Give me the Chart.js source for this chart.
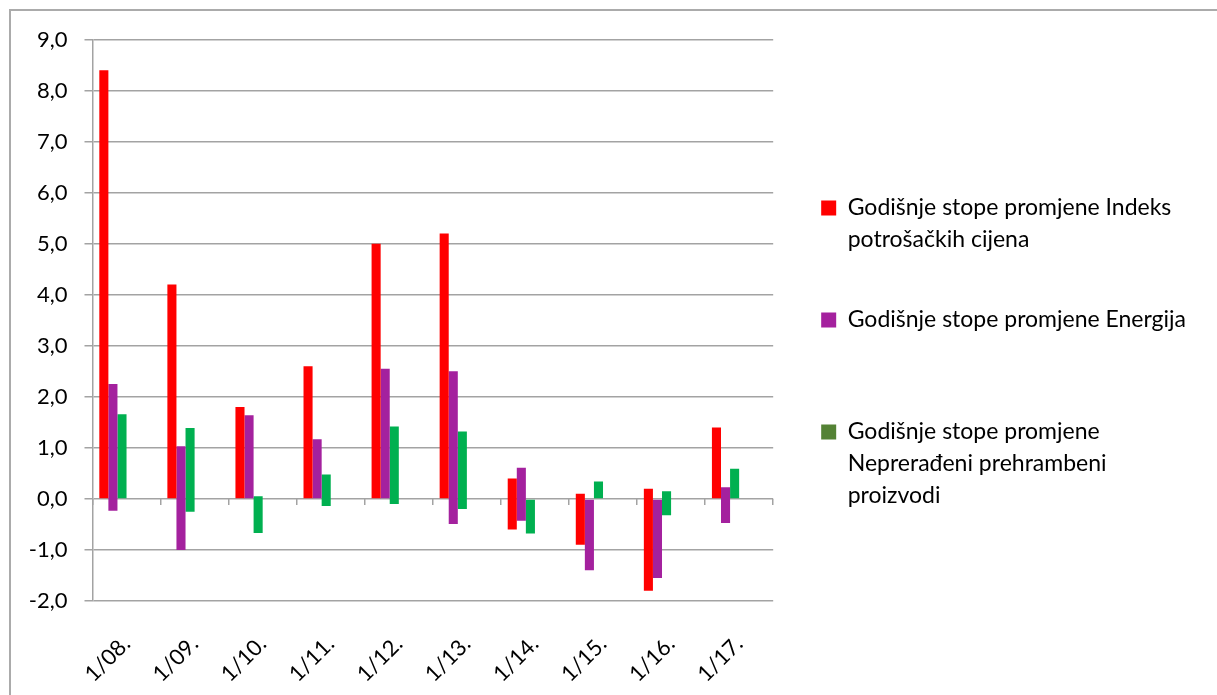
<!DOCTYPE html>
<html>
<head>
<meta charset="utf-8">
<script src="https://cdn.jsdelivr.net/npm/chart.js@4.4.1/dist/chart.umd.min.js"></script>
<style>
body{margin:0;overflow:hidden;background:#fff;}
#frame{position:absolute;left:9px;top:9px;width:1400px;height:900px;border:2px solid #ababab;}
#wrap{position:absolute;left:0;top:0;width:1217px;height:695px;}
</style>
</head>
<body>
<div id="frame"></div>
<div id="wrap"><canvas id="myChart"></canvas></div>
<script>
var categories = ['1/08.', '1/09.', '1/10.', '1/11.', '1/12.', '1/13.', '1/14.', '1/15.', '1/16.', '1/17.'];

// floating bars: low / high end of each bar
var cpiLow  = [0, 0, 0, 0, 0, 0, -0.6, -0.9, -1.8, 0];
var cpiHigh = [8.4, 4.2, 1.8, 2.6, 5.0, 5.2, 0.4, 0.1, 0.2, 1.4];
var energyLow  = [-0.23, -1.0, 0, 0, 0, -0.49, -0.43, -1.4, -1.55, -0.47];
var energyHigh = [2.25, 1.03, 1.64, 1.17, 2.55, 2.5, 0.61, 0, 0, 0.23];
var foodLow  = [0, -0.25, -0.67, -0.14, -0.1, -0.2, -0.68, 0, -0.32, 0];
var foodHigh = [1.66, 1.39, 0.05, 0.48, 1.42, 1.32, 0, 0.34, 0.15, 0.59];

var yTicksMin = -2;
var yTicksMax = 9;

var legendCpi = ['Godišnje stope promjene Indeks', 'potrošačkih cijena'];
var legendEnergy = ['Godišnje stope promjene Energija', ''];
var legendFood = ['Godišnje stope promjene', 'Neprerađeni prehrambeni', 'proizvodi'];

function pairs(low, high){
	var out = [];
	for (var i = 0; i < low.length; i++) {
		out.push([low[i], high[i]]);
	}
	return out;
}

function empty(){
	var out = [];
	for (var i = 0; i < categories.length; i++) out.push(null);
	return out;
}

var gridGrey = '#a3a3a3';

var ctx = document.getElementById('myChart').getContext('2d');
var chart = new Chart(ctx, {
	type: 'bar',
	data: {
		labels: categories,
		datasets: [
			{label: legendCpi.join(' '), data: pairs(cpiLow, cpiHigh), backgroundColor: '#ff0000'},
			{label: legendEnergy[0], data: pairs(energyLow, energyHigh), backgroundColor: '#a4219e'},
			{label: legendFood.join(' '), data: pairs(foodLow, foodHigh), backgroundColor: '#00b050'},
			// empty slots, Excel leaves them on the right of each group
			{label: 'a', data: empty()},
			{label: 'b', data: empty()},
			{label: 'c', data: empty()}
		]
	},
	options: {
		responsive: true,
		maintainAspectRatio: false,
		animation: false,
		categoryPercentage: 0.8,
		barPercentage: 1,
		layout: {padding: {left: 0, right: 21, top: 39.5, bottom: 0}},
		plugins: {
			tooltip: {enabled: false},
			legend: {
				position: 'right',
				align: 'start',
				maxWidth: 445,
				// empty title only pushes the items down
				title: {display: true, text: '', padding: 0, font: {size: 10, lineHeight: '109px'}},
				labels: {
					boxWidth: 15,
					boxHeight: 15,
					padding: 48,
					color: '#000',
					font: {family: 'Lato', size: 23, lineHeight: 32 / 23},
					generateLabels: function(chart){
						return [
							{text: legendCpi, fillStyle: '#ff0000', strokeStyle: '#ff0000', fontColor: '#000', lineWidth: 0, hidden: false, datasetIndex: 0},
							{text: legendEnergy, fillStyle: '#a4219e', strokeStyle: '#a4219e', fontColor: '#000', lineWidth: 0, hidden: false, datasetIndex: 1},
							{text: legendFood, fillStyle: '#548235', strokeStyle: '#548235', fontColor: '#000', lineWidth: 0, hidden: false, datasetIndex: 2}
						];
					}
				}
			}
		},
		scales: {
			x: {
				grid: {display: false},
				border: {display: false},
				ticks: {
					color: '#000',
					font: {family: 'Lato', size: 22},
					minRotation: 45,
					maxRotation: 45,
					autoSkip: false,
					padding: 22
				},
				afterFit: function(scale){ scale.height = 94; }
			},
			x2: {
				type: 'category',
				labels: categories,
				position: {y: 0},
				offset: true,
				grid: {offset: true, drawOnChartArea: false, color: gridGrey, lineWidth: 1.5, tickLength: 6},
				border: {display: false},
				ticks: {display: false}
			},
			y: {
				min: yTicksMin,
				max: yTicksMax,
				grid: {color: gridGrey, lineWidth: 1.5, tickLength: 8},
				border: {display: true, color: gridGrey, width: 1.5},
				ticks: {
					stepSize: 1,
					color: '#000',
					padding: 17,
					font: {family: 'Lato', size: 22},
					callback: function(v){ return v.toFixed(1).replace('.', ','); }
				},
				afterFit: function(scale){ scale.width = 92.5; }
			}
		}
	}
});
</script>
</body>
</html>
